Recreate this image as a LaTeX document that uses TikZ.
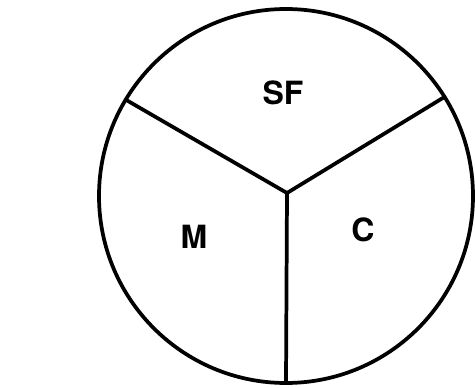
\documentclass[tikz,border=0pt]{standalone}
\usepackage{fontspec}
\setsansfont{TeX Gyre Heros}
\usepackage{tikz}
\usetikzlibrary{positioning}
\definecolor{ink}{HTML}{000000}
\tikzset{
  font=\sffamily\bfseries,
  disc/.style={
    circle, draw=ink, line width=2.8pt, fill=white,
    minimum size=280.5pt, inner sep=0pt, outer sep=0pt
  },
  spoke/.style={draw=ink, line width=2.8pt, line cap=round},
  share/.style={text=ink, inner sep=0pt, font=\sffamily\bfseries\fontsize{24}{28}\selectfont}
}

\begin{document}
\begin{tikzpicture}[x=0.75pt,y=0.75pt]
  \useasboundingbox (0,0) rectangle (475,387);

  \node[disc] (pie) at (286,191) {};
  \coordinate (hub) at (287,194);

  % three equal sectors
  \draw[spoke] (hub) -- (pie.149);
  \draw[spoke] (hub) -- (pie.32);
  \draw[spoke] (hub) -- (pie.270);

  % ---- sector labels ----
  \node[share] (sf) at (283,294) {SF};
  \node[share] (m)  at (194,150) {M};
  \node[share] (c)  at (363,157) {C};
\end{tikzpicture}
\end{document}
